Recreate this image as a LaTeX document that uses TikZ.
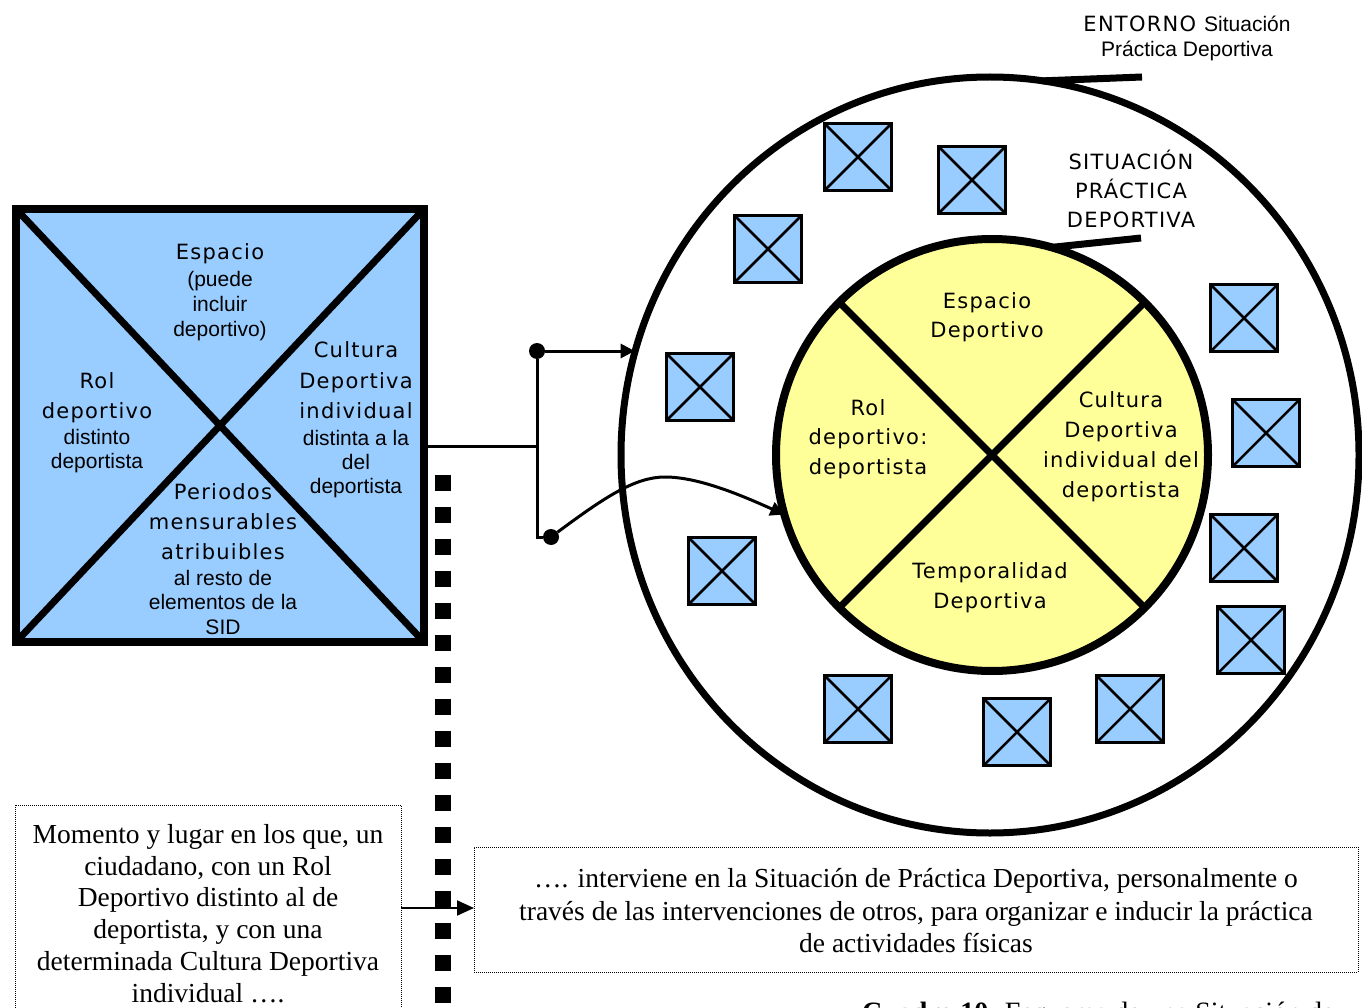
\documentclass[tikz,border=0pt]{standalone}
\usepackage{fontspec}
\setmainfont{Liberation Serif}
\newfontfamily\verdfont[LetterSpace=6]{DejaVu Sans}
\newfontfamily\arialfont{Liberation Sans}
\usetikzlibrary{arrows.meta,shapes.geometric}
\definecolor{boxblue}{HTML}{99CCFF}
\definecolor{coreyellow}{HTML}{FFFF99}

\begin{document}
\begin{tikzpicture}[x=1pt,y=-1pt,
    vtxt/.style={font=\verdfont\fontsize{21}{25}\selectfont,anchor=base,inner sep=0},
    atxt/.style={font=\arialfont\fontsize{21}{24}\selectfont,anchor=base,inner sep=0},
    stxt/.style={font=\fontsize{27.5}{31}\selectfont,anchor=base,inner sep=0},
    smallbox/.style={draw,fill=boxblue,line width=3pt,minimum size=67pt,inner sep=0,outer sep=0},
    dot/.style={circle,fill,inner sep=0,minimum size=16pt},
    link/.style={line width=3pt},
    tip/.style={-{Triangle[length=14pt,width=14pt]}},
    note/.style={draw,densely dotted,line width=1pt,inner sep=0,outer sep=0}]
    \useasboundingbox (0,0) rectangle (1362,1008);
    \clip (0,0) rectangle (1362,1008);

    % Left square
    \node[draw,fill=boxblue,line width=8pt,minimum width=408pt,minimum height=433pt,
          inner sep=0,outer sep=0] (sid) at (220,425.5) {};
    \draw[line width=7pt] (sid.north west) -- (sid.south east);
    \draw[line width=7pt] (sid.south west) -- (sid.north east);

    \foreach \x/\y/\t [count=\i] in {220/260/Espacio,97/388/Rol,97/418/deportivo,
        356/357/Cultura,356/388/Deportiva,356/418/individual,
        223/499/Periodos,223/529/mensurables,223/559/atribuibles}{
    \node[vtxt] (lv\i) at (\x,\y) {\t};
    }
    \foreach \x/\y/\t [count=\i] in {220/287/{(puede},220/311/incluir,220/336/{deportivo)},
        97/444/distinto,97/468/deportista,
        356/445/{distinta a la},356/469/del,356/493/deportista,
        223/585/{al resto de},223/609/{elementos de la},223/634/SID}{
    \node[atxt] (la\i) at (\x,\y) {\t};
    }

    % Entorno
    \node[ellipse,draw,line width=7pt,minimum width=738pt,minimum height=756pt,
          inner sep=0,outer sep=0] (entorno) at (990,455) {};

    \foreach \x/\y [count=\i] in {858/157,972/180,768/249,700/387,722/571,858/709,
        1017/732,1130/709,1251/640,1244/548,1266/433,1244/318}{
    \node[smallbox] (b\i) at (\x,\y) {};
    \draw[line width=2.5pt] (b\i.north west) -- (b\i.south east)
                            (b\i.south west) -- (b\i.north east);
    }

    % Situacion practica deportiva
    \node[circle,draw,fill=coreyellow,line width=8pt,minimum size=432pt,
          inner sep=0,outer sep=0] (spd) at (992,455) {};
    \draw[line width=7pt] (spd.135) -- (spd.-45);
    \draw[line width=7pt] (spd.45) -- (spd.-135);

    \foreach \x/\y/\t [count=\i] in {987/308/Espacio,987/337/Deportivo,
        868/415/Rol,868/444/deportivo:,868/474/deportista,
        1121/407/Cultura,1121/437/Deportiva,1121/467/{individual del},1121/497/deportista,
        990/578/Temporalidad,990/608/Deportiva}{
    \node[vtxt] (lc\i) at (\x,\y) {\t};
    }

    % Labels of the two circles
    \node[vtxt] (ent1) at (1187,32) {ENTORNO {\arialfont Situación}};
    \node[atxt] (ent2) at (1187,57) {Práctica Deportiva};
    \coordinate (entline) at (1142,77);
    \draw[line width=7pt] (entorno.82) -- (entline);

    \node[vtxt] (sit1) at (1131,170) {SITUACIÓN};
    \node[vtxt] (sit2) at (1131,199) {PRÁCTICA};
    \node[vtxt] (sit3) at (1131,228) {DEPORTIVA};
    \coordinate (spdline) at (1141,238);
    \draw[line width=7pt] (spd.74) -- (spdline);

    % Connectors
    \node[dot] (dotA) at (537,351) {};
    \node[dot] (dotB) at (551,537) {};
    \coordinate (jn) at (537,446);
    \draw[link] (sid.east |- jn) -- (jn);
    \draw[link] (dotA) |- (dotB);
    \draw[link,tip] (dotA) -- (dotA -| entorno.164);
    \draw[link,tip] (dotB) .. controls (605,497) and (635,477) .. (665,477)
                    .. controls (700,477) and (745,497) .. (spd.196);

    % Divider
    \draw[line width=16pt,dash pattern=on 16pt off 16pt] (443,475) -- (443,1012);

    % Notes
    \node[note,minimum width=386pt,minimum height=230pt,anchor=north west] (momento) at (15,805) {};
    \foreach \y/\t [count=\i] in {843/{Momento y lugar en los que, un},875/{ciudadano, con un Rol},
        906/{Deportivo distinto al de},938/{deportista, y con una},
        970/{determinada Cultura Deportiva},1002/{individual ….}}{
    \node[stxt] (lm\i) at (208,\y) {\t};
    }

    \node[note,minimum width=884pt,minimum height=125pt,anchor=north west] (interv) at (474,847) {};
    \foreach \y/\t [count=\i] in {887/{…. interviene en la Situación de Práctica Deportiva, personalmente o},
        920/{través de las intervenciones de otros, para organizar e inducir la práctica},
        952/{de actividades físicas}}{
    \node[stxt] (li\i) at (916,\y) {\t};
    }

    \coordinate (ar) at (0,908);
    \draw[line width=2pt,-{Triangle[length=17pt,width=15pt]}] (momento.east |- ar) -- (interv.west |- ar);

    \node[stxt,font=\fontsize{28}{31}\selectfont,anchor=base west] (cap) at (862,1021)
        {\textbf{Cuadro 10.} Esquema de una Situación de};
\end{tikzpicture}
\end{document}
